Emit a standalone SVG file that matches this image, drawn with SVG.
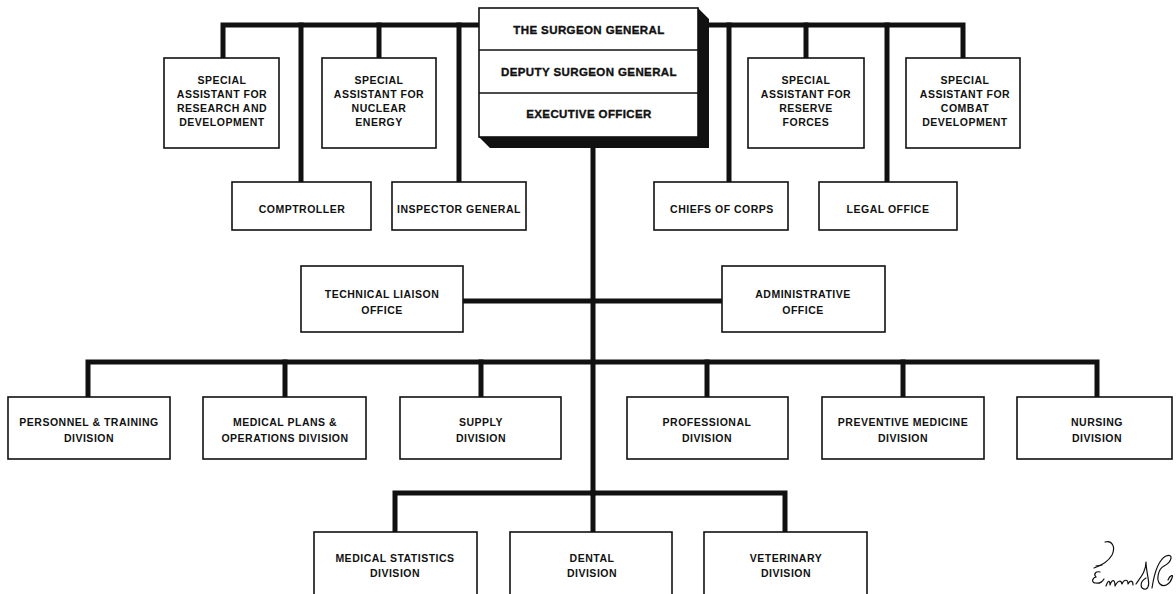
<svg xmlns="http://www.w3.org/2000/svg" width="1176" height="594" viewBox="0 0 1176 594">
<style>
.box{fill:#fff;stroke:#111;stroke-width:1.6}
.t{font-family:"Liberation Sans",Arial,sans-serif;font-weight:bold;font-size:10.5px;letter-spacing:0.5px;text-anchor:middle;fill:#111}
.h{font-family:"Liberation Sans",Arial,sans-serif;font-weight:bold;font-size:11.5px;letter-spacing:0.4px;text-anchor:middle;fill:#111;stroke:#111;stroke-width:0.35}
.c{fill:none;stroke:#111;stroke-width:5;stroke-linejoin:miter;stroke-linecap:square}
.sig{fill:none;stroke:#111;stroke-width:1.2;stroke-linecap:round;stroke-linejoin:round}
</style>
<rect width="1176" height="594" fill="#fff"/>
<g id="connectors">
<path class="c" d="M223,56 V25 H479"/>
<path class="c" d="M301,180 V25"/>
<path class="c" d="M379,56 V25"/>
<path class="c" d="M459,180 V25"/>
<path class="c" d="M709,25 H963 V56"/>
<path class="c" d="M729,180 V25"/>
<path class="c" d="M806,56 V25"/>
<path class="c" d="M887,180 V25"/>
<path class="c" d="M593,148 V493"/>
<path class="c" d="M465,301 H720"/>
<path class="c" d="M88,395 V362 H1097 V395"/>
<path class="c" d="M285,395 V362"/>
<path class="c" d="M481,395 V362"/>
<path class="c" d="M707,395 V362"/>
<path class="c" d="M903,395 V362"/>
<path class="c" d="M395,530 V493 H785 V530"/>
<path class="c" d="M593,530 V493"/>
</g>
<g id="surgeon-general">
<polygon points="479,137 490,148 709,148 709,19 698,8 698,137" fill="#111"/>
<rect class="box" x="479" y="8" width="219" height="129" stroke-width="2"/>
<line x1="479" y1="50" x2="698" y2="50" stroke="#111" stroke-width="1.6"/>
<line x1="479" y1="93" x2="698" y2="93" stroke="#111" stroke-width="1.6"/>
<text class="h" x="589" y="34">THE SURGEON GENERAL</text>
<text class="h" x="589" y="76">DEPUTY SURGEON GENERAL</text>
<text class="h" x="589" y="118">EXECUTIVE OFFICER</text>
</g>
<g id="sa-research">
<rect class="box" x="164" y="58" width="115" height="90"/>
<text class="t" x="222" y="84">SPECIAL</text>
<text class="t" x="222" y="98">ASSISTANT FOR</text>
<text class="t" x="222" y="112">RESEARCH AND</text>
<text class="t" x="222" y="126">DEVELOPMENT</text>
</g>
<g id="sa-nuclear">
<rect class="box" x="322" y="58" width="114" height="90"/>
<text class="t" x="379" y="84">SPECIAL</text>
<text class="t" x="379" y="98">ASSISTANT FOR</text>
<text class="t" x="379" y="112">NUCLEAR</text>
<text class="t" x="379" y="126">ENERGY</text>
</g>
<g id="sa-reserve">
<rect class="box" x="748" y="58" width="116" height="90"/>
<text class="t" x="806" y="84">SPECIAL</text>
<text class="t" x="806" y="98">ASSISTANT FOR</text>
<text class="t" x="806" y="112">RESERVE</text>
<text class="t" x="806" y="126">FORCES</text>
</g>
<g id="sa-combat">
<rect class="box" x="906" y="58" width="114" height="90"/>
<text class="t" x="965" y="84">SPECIAL</text>
<text class="t" x="965" y="98">ASSISTANT FOR</text>
<text class="t" x="965" y="112">COMBAT</text>
<text class="t" x="965" y="126">DEVELOPMENT</text>
</g>
<g id="comptroller">
<rect class="box" x="232" y="182" width="139" height="48"/>
<text class="t" x="302" y="213">COMPTROLLER</text>
</g>
<g id="inspector-general">
<rect class="box" x="392" y="182" width="134" height="48"/>
<text class="t" x="459" y="213">INSPECTOR GENERAL</text>
</g>
<g id="chiefs-of-corps">
<rect class="box" x="654" y="182" width="134" height="48"/>
<text class="t" x="722" y="213">CHIEFS OF CORPS</text>
</g>
<g id="legal-office">
<rect class="box" x="819" y="182" width="138" height="48"/>
<text class="t" x="888" y="213">LEGAL OFFICE</text>
</g>
<g id="technical-liaison">
<rect class="box" x="301" y="266" width="162" height="66"/>
<text class="t" x="382" y="298">TECHNICAL LIAISON</text>
<text class="t" x="382" y="314">OFFICE</text>
</g>
<g id="administrative-office">
<rect class="box" x="722" y="266" width="163" height="66"/>
<text class="t" x="803" y="298">ADMINISTRATIVE</text>
<text class="t" x="803" y="314">OFFICE</text>
</g>
<g id="personnel-training">
<rect class="box" x="8" y="397" width="162" height="62"/>
<text class="t" x="89" y="426">PERSONNEL &amp; TRAINING</text>
<text class="t" x="89" y="442">DIVISION</text>
</g>
<g id="medical-plans">
<rect class="box" x="203" y="397" width="163" height="62"/>
<text class="t" x="285" y="426">MEDICAL PLANS &amp;</text>
<text class="t" x="285" y="442">OPERATIONS DIVISION</text>
</g>
<g id="supply">
<rect class="box" x="400" y="397" width="161" height="62"/>
<text class="t" x="481" y="426">SUPPLY</text>
<text class="t" x="481" y="442">DIVISION</text>
</g>
<g id="professional">
<rect class="box" x="627" y="397" width="161" height="62"/>
<text class="t" x="707" y="426">PROFESSIONAL</text>
<text class="t" x="707" y="442">DIVISION</text>
</g>
<g id="preventive-medicine">
<rect class="box" x="822" y="397" width="162" height="62"/>
<text class="t" x="903" y="426">PREVENTIVE MEDICINE</text>
<text class="t" x="903" y="442">DIVISION</text>
</g>
<g id="nursing">
<rect class="box" x="1017" y="397" width="155" height="62"/>
<text class="t" x="1097" y="426">NURSING</text>
<text class="t" x="1097" y="442">DIVISION</text>
</g>
<g id="medical-statistics">
<rect class="box" x="314" y="532" width="163" height="70"/>
<text class="t" x="395" y="562">MEDICAL STATISTICS</text>
<text class="t" x="395" y="577">DIVISION</text>
</g>
<g id="dental">
<rect class="box" x="510" y="532" width="162" height="70"/>
<text class="t" x="592" y="562">DENTAL</text>
<text class="t" x="592" y="577">DIVISION</text>
</g>
<g id="veterinary">
<rect class="box" x="704" y="532" width="163" height="70"/>
<text class="t" x="786" y="562">VETERINARY</text>
<text class="t" x="786" y="577">DIVISION</text>
</g>
<g id="signature">
<path class="sig" d="M1094,568 C1100,566 1108,562 1112,555 C1116,547 1112,540 1105,542"/>
<path class="sig" d="M1100,572 C1096,571 1093,574 1096,577 C1092,578 1091,583 1096,583 C1100,584 1103,581 1104,579"/>
<path class="sig" d="M1096,566 L1102,565"/>
<path class="sig" d="M1106,586 C1108,580 1110,580 1110,585 C1112,579 1115,579 1115,586 C1118,580 1121,580 1122,584 C1124,579 1128,579 1128,584 C1130,580 1133,580 1133,585"/>
<path class="sig" d="M1136,584 C1140,578 1146,572 1146,562 C1146,574 1152,586 1146,589 C1140,590 1139,582 1146,578"/>
<path class="sig" d="M1152,588 C1154,575 1158,560 1166,556 C1174,553 1172,562 1164,566 C1158,569 1156,580 1160,584 C1164,588 1170,584 1172,578 C1174,574 1170,575 1168,580"/>
</g>
</svg>
